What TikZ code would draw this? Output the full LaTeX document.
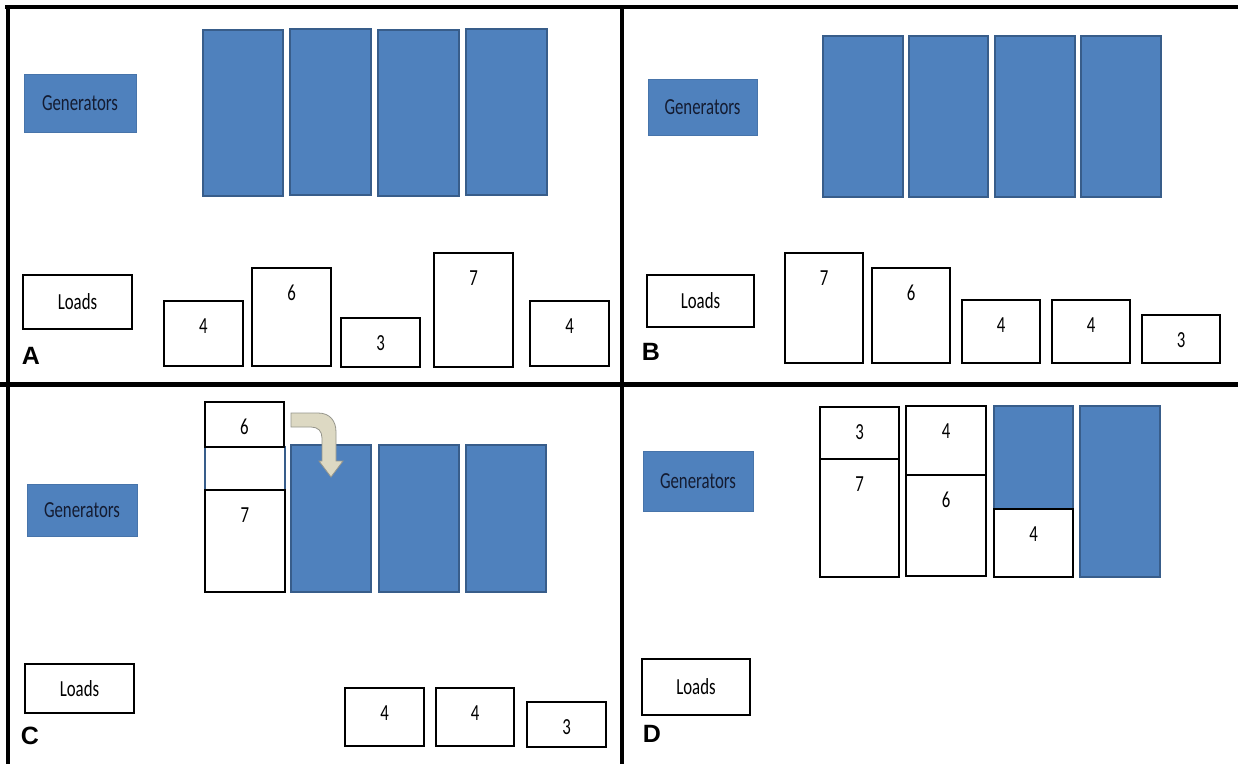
\documentclass[tikz,border=0pt]{standalone}
\usepackage{fontspec}
\newfontfamily\calib[FakeStretch=0.73]{Carlito}
\newfontfamily\labfont{Liberation Sans}
\definecolor{genblue}{RGB}{79,129,189}
\definecolor{genborder}{RGB}{56,93,138}
\definecolor{gentext}{RGB}{20,28,50}
\definecolor{arrowfill}{RGB}{221,217,195}
\definecolor{arrowline}{RGB}{150,150,140}
\newcommand\lbox[6]{%
  \node[loadbox, minimum width={#4-#2}, minimum height={#5-#3}] (#1) at ({(#2+#4)/2},{(#3+#5)/2}) {};
  \node[num] (#1-t) at ({(#2+#4)/2},{#3+25}) {#6};}
\newcommand\gbox[5]{%
  \node[genbar, minimum width={#4-#2}, minimum height={#5-#3}] (#1) at ({(#2+#4)/2},{(#3+#5)/2}) {};}
\begin{document}
\begin{tikzpicture}[x=1pt,y=-1pt,
  loadbox/.style={draw=black, fill=white, line width=1.6pt, inner sep=0pt, outer sep=0pt},
  genbar/.style={draw=genborder, fill=genblue, line width=2pt, inner sep=0pt, outer sep=0pt},
  num/.style={font=\calib\fontsize{23}{23}\selectfont, inner sep=0pt, text=black},
  genlabel/.style={fill=genblue, draw=genblue!90!black, line width=0.6pt, inner sep=0pt,
     font=\calib\fontsize{23}{23}\selectfont, text=gentext},
  loadlabel/.style={draw=black, fill=white, line width=1.6pt, inner sep=0pt,
     font=\calib\fontsize{23}{23}\selectfont, text=black},
  panel/.style={font=\labfont\bfseries\fontsize{25}{25}\selectfont, inner sep=0pt, text=black},
  frame/.style={draw=black, line width=4pt}]
\useasboundingbox (0,0) rectangle (1238,764);
\fill[white] (0,0) rectangle (1238,764);
% frame
\draw[frame, line width=3.5pt] (5,7) -- (1238,7);
\draw[frame, line width=3.5pt] (8,5) -- (8,764);
\draw[frame] (622,5) -- (622,764);
\draw[frame, line width=5pt] (0,384) -- (1238,384);

% ---------- Panel A ----------
\node[genlabel, minimum width=112, minimum height=58] (genA) at (80,103) {Generators};
\node[loadlabel, minimum width=109, minimum height=54] (loadA) at (77.5,302) {Loads};
\gbox{a1}{203}{30}{283}{196}
\gbox{a2}{290}{29}{371}{195}
\gbox{a3}{378}{30}{459}{196}
\gbox{a4}{466}{29}{547}{195}
\lbox{la1}{164}{301}{243}{366}{4}
\lbox{la2}{252}{268}{331}{366}{6}
\lbox{la3}{341}{318}{420}{367}{3}
\lbox{la4}{434}{253}{513}{367}{7}
\lbox{la5}{530}{301}{609}{366}{4}
\node[panel] (pA) at (31,356) {A};

% ---------- Panel B ----------
\node[genlabel, minimum width=109, minimum height=56] (genB) at (702.5,107) {Generators};
\node[loadlabel, minimum width=107, minimum height=52] (loadB) at (700.5,301) {Loads};
\gbox{b1}{823}{36}{903}{197}
\gbox{b2}{909}{36}{988}{197}
\gbox{b3}{995}{36}{1075}{197}
\gbox{b4}{1081}{36}{1161}{197}
\lbox{lb1}{785}{253}{863}{363}{7}
\lbox{lb2}{872}{268}{950}{363}{6}
\lbox{lb3}{962}{300}{1040}{363}{4}
\lbox{lb4}{1052}{300}{1130}{363}{4}
\lbox{lb5}{1142}{315}{1220}{363}{3}
\node[panel] (pB) at (651,352) {B};

% ---------- Panel C ----------
\node[genlabel, minimum width=110, minimum height=52] (genC) at (82,510) {Generators};
\node[loadlabel, minimum width=109, minimum height=49] (loadC) at (79.5,688.5) {Loads};
\node[draw=genborder, fill=white, line width=2pt, minimum width=80, minimum height=145, inner sep=0pt] (c1) at (245,519.5) {};
\lbox{lc7}{205}{490}{285}{592}{7}
\lbox{lc6}{205}{402}{284}{447}{6}
\gbox{c2}{291}{445}{371}{592}
\gbox{c3}{379}{445}{459}{592}
\gbox{c4}{466}{445}{546}{592}
\filldraw[fill=arrowfill, draw=arrowline, line width=0.8pt]
  (291,413) -- (318,413) .. controls (330,413) and (336,421) .. (336,432)
  -- (336,461) -- (343,461) -- (331,477) -- (319,461) -- (322,461)
  -- (322,438) .. controls (322,431) and (318,427) .. (311,427) -- (291,427) -- cycle;
\lbox{lc1}{345}{688}{424}{746}{4}
\lbox{lc2}{436}{688}{514}{746}{4}
\lbox{lc3}{527}{702}{606}{747}{3}
\node[panel] (pC) at (30,736) {C};

% ---------- Panel D ----------
\node[genlabel, minimum width=110, minimum height=60] (genD) at (698,481) {Generators};
\node[loadlabel, minimum width=108, minimum height=56] (loadD) at (696,687) {Loads};
\lbox{ld7}{820}{459}{899}{577}{7}
\lbox{ld3}{820}{407}{899}{459}{3}
\lbox{ld6}{906}{475}{986}{576}{6}
\lbox{ld4}{906}{406}{986}{475}{4}
\gbox{d3}{994}{406}{1073}{509}
\lbox{ld4b}{994}{509}{1073}{577}{4}
\gbox{d4}{1080}{406}{1160}{577}
\node[panel] (pD) at (652,734) {D};
\end{tikzpicture}
\end{document}
